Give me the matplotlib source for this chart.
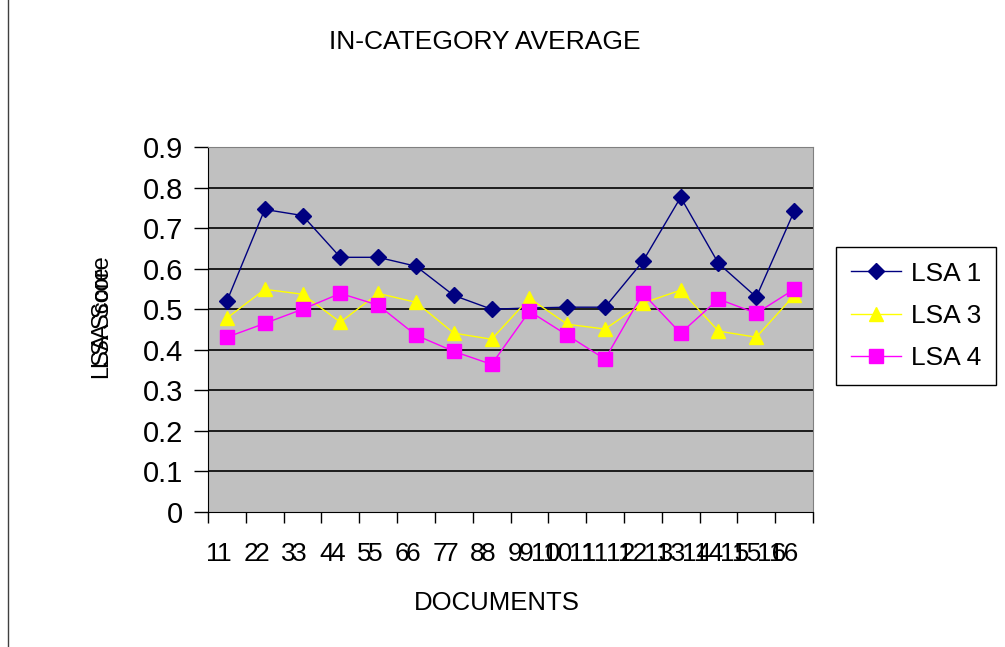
import matplotlib
matplotlib.use("Agg")
import matplotlib.pyplot as plt
import matplotlib.transforms as mtransforms
from matplotlib.lines import Line2D

plt.rcParams["font.family"] = ["Liberation Sans", "DejaVu Sans"]

documentos = list(range(1, 17))
etiquetas_x = [str(d) for d in documentos]
valores_y = [0, 0.1, 0.2, 0.3, 0.4, 0.5, 0.6, 0.7, 0.8, 0.9]
etiquetas_y = ["0", "0.1", "0.2", "0.3", "0.4", "0.5", "0.6", "0.7", "0.8", "0.9"]

lsa1 = [0.52, 0.746, 0.731, 0.628, 0.628, 0.606, 0.534, 0.50, 0.503, 0.505, 0.505, 0.618, 0.776, 0.613, 0.53, 0.741]
lsa3 = [0.478, 0.549, 0.537, 0.468, 0.539, 0.517, 0.441, 0.426, 0.527, 0.463, 0.451, 0.515, 0.547, 0.446, 0.431, 0.534]
lsa4 = [0.431, 0.465, 0.50, 0.539, 0.51, 0.436, 0.396, 0.364, 0.495, 0.436, 0.377, 0.539, 0.441, 0.525, 0.49, 0.549]

W, H = 1005, 647
figura = plt.figure(figsize=(W / 100, H / 100), dpi=100)
ejes = figura.add_axes([208 / W, 1 - 512 / H, 605 / W, 365 / H])
ejes.set_facecolor("#C0C0C0")

for v in valores_y[1:-1]:
    ejes.axhline(v, color="black", linewidth=1.2, zorder=1)

ejes.plot(documentos, lsa1, color="#000080", marker="D", markersize=8, linewidth=1, label="LSA 1", zorder=3)
ejes.plot(documentos, lsa3, color="#FFFF00", marker="^", markersize=10, linewidth=1, label="LSA 3", zorder=3)
ejes.plot(documentos, lsa4, color="#FF00FF", marker="s", markersize=9.5, linewidth=1, label="LSA 4", zorder=3)

ejes.set_xlim(0.5, 16.5)
ejes.set_ylim(0, 0.9)
ejes.set_yticks(valores_y)
ejes.set_yticklabels(etiquetas_y, fontsize=21)
ejes.set_xticks([d + 0.5 for d in [0] + documentos])
ejes.set_xticklabels([])
ejes.tick_params(axis="y", direction="out", length=10, width=1, pad=8)
ejes.tick_params(axis="x", direction="out", length=8, width=1)

for lado in ["top", "right"]:
    ejes.spines[lado].set_color("#808080")
for lado in ["left", "bottom"]:
    ejes.spines[lado].set_color("black")

# etiquetas del eje x dibujadas dos veces, como en el original
mezcla = mtransforms.blended_transform_factory(ejes.transData, ejes.transAxes)
for d, texto in zip(documentos, etiquetas_x):
    if len(texto) == 1:
        desplazamientos = [-14, -3]
    else:
        desplazamientos = [-22, -10]
    for dx in desplazamientos:
        t = mezcla + mtransforms.ScaledTranslation(dx / 100, -42 / 100, figura.dpi_scale_trans)
        ejes.text(d, 0, texto, transform=t, ha="center", va="center", fontsize=19)

figura.text(485 / W, 1 - 42 / H, "IN-CATEGORY AVERAGE", ha="center", va="center", fontsize=19)
figura.text(497 / W, 1 - 603 / H, "DOCUMENTS", ha="center", va="center", fontsize=18.5)
figura.text(103 / W, 1 - 323 / H, "LSA Score", ha="center", va="center", rotation=90, fontsize=17)
figura.text(103 / W, 1 - 312 / H, "LSA Score", ha="center", va="center", rotation=90, fontsize=17)

leyenda = ejes.legend(loc="upper left", bbox_to_anchor=(836 / W, 1 - 247 / H), bbox_transform=figura.transFigure,
                      borderaxespad=0, fancybox=False, edgecolor="black", framealpha=1, fontsize=19,
                      handlelength=1.9, handletextpad=0.4, labelspacing=0.7, borderpad=0.55)
leyenda.get_frame().set_linewidth(1)

figura.add_artist(Line2D([8 / W, 8 / W], [0, 1], transform=figura.transFigure, color="#404040", linewidth=1))

figura.savefig("out.png", dpi=100)
plt.close(figura)
